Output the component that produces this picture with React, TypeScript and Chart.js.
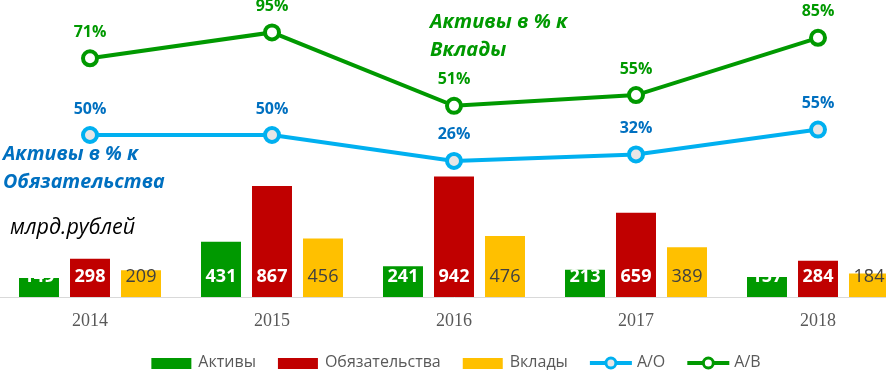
import React, { useEffect, useRef } from "react";
import { Chart, registerables } from "chart.js";

Chart.register(...registerables);

// ---- data ----
const years = ["2014", "2015", "2016", "2017", "2018"];
const aktivy = [149, 431, 241, 213, 157];
const obyazatelstva = [298, 867, 942, 659, 284];
const vklady = [209, 456, 476, 389, 184];
const ratioAO = [0.5, 0.5, 0.26, 0.32, 0.55];
const ratioAV = [0.71, 0.95, 0.51, 0.55, 0.85];
const seriesNames = ["Активы", "Обязательства", "Вклады", "А/О", "А/В"];
const noteAV = ["Активы в % к", "Вклады"];
const noteAO = ["Активы в % к", "Обязательства"];
const unitNote = "млрд.рублей";

// ---- styles ----
const GREEN = "#009900";
const RED = "#C00000";
const YELLOW = "#FFC000";
const LBLUE = "#00B0F0";
const DBLUE = "#0070C0";
const SANS = "'Open Sans', 'Noto Sans', sans-serif";
const SHIFT = 1; // canvas is shifted 1px left of page
const CW = 910;
const CH = 370;

const barLabelPlugin = {
  id: "barLabels",
  afterDatasetsDraw(chart: any) {
    const ctx = chart.ctx;
    chart.data.datasets.forEach((ds: any, i: number) => {
      const meta = chart.getDatasetMeta(i);
      if (meta.hidden) return;
      meta.data.forEach((el: any, j: number) => {
        const v = ds.data[j];
        ctx.save();
        ctx.textAlign = "center";
        ctx.textBaseline = "middle";
        if (meta.type === "bar") {
          ctx.font = `${ds.labelWeight} 18px ${SANS}`;
          ctx.fillStyle = ds.labelColor;
          ctx.fillText(String(v), el.x, el.base - 20);
        } else {
          ctx.font = `bold 16px ${SANS}`;
          ctx.fillStyle = ds.labelColor;
          ctx.fillText(Math.round(v * 100) + "%", el.x, el.y - 26);
        }
        ctx.restore();
      });
    });
  },
};

const notesPlugin = {
  id: "notes",
  afterDraw(chart: any) {
    const ctx = chart.ctx;
    ctx.save();
    ctx.textAlign = "left";
    ctx.textBaseline = "middle";
    ctx.font = `italic bold 20px ${SANS}`;
    ctx.fillStyle = GREEN;
    ctx.fillText(noteAV[0], 430 + SHIFT, 22);
    ctx.fillText(noteAV[1], 430 + SHIFT, 50);
    ctx.font = `italic bold 19.7px ${SANS}`;
    ctx.fillStyle = DBLUE;
    ctx.fillText(noteAO[0], 3 + SHIFT, 154);
    ctx.fillText(noteAO[1], 3 + SHIFT, 182);
    ctx.font = `italic 21.5px ${SANS}`;
    ctx.fillStyle = "#000000";
    ctx.fillText(unitNote, 10 + SHIFT, 228);
    ctx.restore();
  },
};

const legendPlugin = {
  id: "customLegend",
  afterDraw(chart: any) {
    const ctx = chart.ctx;
    const dss = chart.data.datasets;
    ctx.save();
    ctx.font = `16px ${SANS}`;
    const mark = 42;
    const gapText = 5;
    const gapItem = 22;
    const widths = dss.map((d: any) => ctx.measureText(d.label).width);
    const total =
      widths.reduce((a: number, b: number) => a + b, 0) +
      dss.length * (mark + gapText) +
      (dss.length - 1) * gapItem;
    let x = 456 + SHIFT - total / 2;
    const cy = 363;
    dss.forEach((d: any, i: number) => {
      if (d.type === "line") {
        ctx.strokeStyle = d.borderColor;
        ctx.lineWidth = 4;
        ctx.beginPath();
        ctx.moveTo(x, cy);
        ctx.lineTo(x + mark, cy);
        ctx.stroke();
        ctx.beginPath();
        ctx.arc(x + mark / 2, cy, 5, 0, Math.PI * 2);
        ctx.fillStyle = d.pointBackgroundColor;
        ctx.fill();
        ctx.lineWidth = 3;
        ctx.stroke();
      } else {
        ctx.fillStyle = d.backgroundColor;
        ctx.fillRect(x, cy - 5, mark - 2, 11);
      }
      ctx.fillStyle = "#595959";
      ctx.textAlign = "left";
      ctx.textBaseline = "middle";
      ctx.fillText(d.label, x + mark + gapText, cy - 1);
      x += mark + gapText + widths[i] + gapItem;
    });
    ctx.restore();
  },
};

export default function App() {
  const ref = useRef<HTMLCanvasElement | null>(null);

  useEffect(() => {
    if (!ref.current) return;
    const barCommon = {
      type: "bar",
      yAxisID: "y",
      order: 2,
      barPercentage: 0.784,
      categoryPercentage: 0.8407,
    };
    const lineCommon = {
      type: "line",
      yAxisID: "y2",
      stack: "ratio",
      order: 0,
      fill: false,
      tension: 0,
      borderWidth: 4,
      pointRadius: 7,
      pointBorderWidth: 4,
      clip: false,
    };
    const chart = new Chart(ref.current, {
      type: "bar",
      data: {
        labels: years,
        datasets: [
          { ...barCommon, label: seriesNames[0], data: aktivy, backgroundColor: GREEN, labelColor: "#FFFFFF", labelWeight: "bold" },
          { ...barCommon, label: seriesNames[1], data: obyazatelstva, backgroundColor: RED, labelColor: "#FFFFFF", labelWeight: "bold" },
          { ...barCommon, label: seriesNames[2], data: vklady, backgroundColor: YELLOW, labelColor: "#404040", labelWeight: "normal" },
          { ...lineCommon, label: seriesNames[3], data: ratioAO, borderColor: LBLUE, backgroundColor: LBLUE, pointBorderColor: LBLUE, pointBackgroundColor: "#E7E6E6", labelColor: DBLUE },
          { ...lineCommon, label: seriesNames[4], data: ratioAV, borderColor: GREEN, backgroundColor: GREEN, pointBorderColor: GREEN, pointBackgroundColor: "#FFFFFF", labelColor: GREEN },
        ] as any,
      },
      options: {
        animation: false,
        responsive: false,
        maintainAspectRatio: false,
        devicePixelRatio: 1,
        layout: { autoPadding: false, padding: { top: 0, bottom: 38, left: 0, right: 0 } },
        plugins: { legend: { display: false }, tooltip: { enabled: false } },
        scales: {
          x: {
            grid: { display: false, drawTicks: false },
            border: { display: true, color: "#D9D9D9", width: 1 },
            ticks: { color: "#595959", font: { family: "'Liberation Serif', serif", size: 18 }, padding: 13 },
            afterFit: (s: any) => {
              s.height = 35;
            },
          },
          y: { display: false, min: 0, max: 2320 },
          y2: { display: false, min: -1, max: 1.75, stacked: true },
        },
      } as any,
      plugins: [barLabelPlugin, notesPlugin, legendPlugin],
    });
    return () => chart.destroy();
  }, []);

  return (
    <div style={{ position: "fixed", left: 0, top: 0, width: 886, height: 370, overflow: "hidden", background: "#fff" }}>
      <div style={{ position: "absolute", left: -SHIFT, top: 0, width: CW, height: CH }}>
        <canvas ref={ref} width={CW} height={CH} style={{ display: "block", width: CW, height: CH }} />
      </div>
    </div>
  );
}
